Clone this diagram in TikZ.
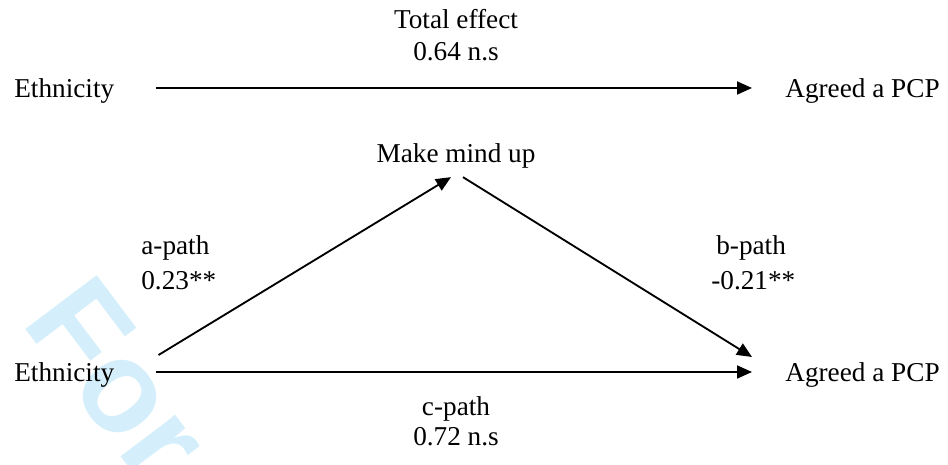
\documentclass[tikz,border=0pt]{standalone}
\usepackage{fontspec}
\setmainfont{Liberation Serif}
\newfontfamily\wmfont{Liberation Sans}
\usepackage{xcolor}
\usetikzlibrary{arrows.meta, calc}

\definecolor{wmcyan}{RGB}{212,239,251}

\tikzset{
  lbl/.style={inner sep=0pt, font=\fontsize{15.5}{18}\selectfont},
  arr/.style={line width=1.05pt, -{Triangle[length=0.3cm, width=0.26cm]}}
}

\begin{document}
\begin{tikzpicture}[x=0.02cm, y=-0.02cm]
  \useasboundingbox (0,0) rectangle (948,465);

  % Watermark
  \begin{scope}
    \clip (0,0) rectangle (948,465);
    \node[anchor=base west, rotate=-53, inner sep=0pt, text=wmcyan,
          font=\wmfont\bfseries\fontsize{74}{80}\selectfont] (wm) at (20,322) {For Peer Review};
  \end{scope}

  % Total effect model
  \node[lbl, anchor=base west] (eth1) at (14,98) {Ethnicity};
  \node[lbl, anchor=base west] (pcp1) at (785,98) {Agreed a PCP};
  \node[lbl, anchor=base] (tot) at (456,29) {Total effect};
  \node[lbl, anchor=base] (totval) at (456,61) {0.64 n.s};
  \draw[arr] ($(eth1.base east)+(41,-10)$) -- ($(pcp1.base west)+(-33,-10)$);

  % Mediation model
  \node[lbl, anchor=base west] (eth2) at (14,382) {Ethnicity};
  \node[lbl, anchor=base west] (pcp2) at (785,382) {Agreed a PCP};
  \node[lbl, anchor=base] (mind) at (456,163) {Make mind up};

  \draw[arr] ($(eth2.base east)+(44,-27)$) -- ($(mind.south)+(-5,8)$);
  \draw[arr] ($(mind.south)+(7,8)$) -- ($(pcp2.base west)+(-33,-25)$);
  \draw[arr] ($(eth2.base east)+(41,-10)$) -- ($(pcp2.base west)+(-33,-10)$);

  % Path labels
  \node[lbl, anchor=base west] (apath) at (141,255) {a-path};
  \node[lbl, anchor=base west] (aval) at (141,290) {0.23**};
  \node[lbl, anchor=base west] (bpath) at (716,255) {b-path};
  \node[lbl, anchor=base west] (bval) at (711,290) {-0.21**};
  \node[lbl, anchor=base] (cpath) at (456,416) {c-path};
  \node[lbl, anchor=base] (cval) at (456,446) {0.72 n.s};
\end{tikzpicture}
\end{document}
